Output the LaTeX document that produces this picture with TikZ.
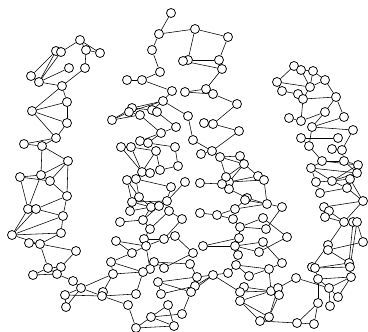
\documentclass[tikz,border=0pt]{standalone}
\usepackage{tikz}
\usetikzlibrary{backgrounds}

\begin{document}
\begin{tikzpicture}[x=0.025cm, y=-0.025cm, line width=0.55pt,
    vtx/.style={circle, draw, fill=white, inner sep=0pt, minimum size=0.225cm}]
    \useasboundingbox (0,0) rectangle (368,331);
    \foreach \Name/\X/\Y in {
    a1/80/40, a2/86/50, a3/100/53, a4/85/68, a5/56/51, a6/61/52, a7/69/68, a8/31/76, a9/39/82,
    a10/62/86, a11/67/102, a12/32/111, a13/67/123, a14/56/138, a15/24/144, a16/42/146, a17/68/161,
    b1/20/177, b2/41/175, b3/50/181, b4/67/196, b5/28/209, b6/36/209, b7/63/216, b8/12/235,
    b9/61/233, b10/29/243, b11/40/244, b12/76/251, b13/48/268, b14/61/267, b15/33/275, b16/57/274,
    b17/73/281, b18/81/288, b19/65/295, b20/66/307,
    c1/171/13, c2/159/34, c3/195/29, c4/228/37, c5/152/50, c6/188/60, c7/183/61, c8/219/60,
    c9/222/69, c10/160/72, c11/127/80, c12/142/80, c13/172/91, c14/185/92, c15/206/89, c16/213/94,
    c17/237/104, c18/163/101, c19/132/108, c20/129/112, c21/152/110, c22/157/112, c23/112/120,
    c24/140/115, c25/188/116, c26/176/127, c27/204/123, c28/213/124, c29/239/131, c30/161/133,
    c31/140/141, c32/148/143, c33/175/147, c34/193/140, c35/121/147, c36/131/147, c37/156/151,
    c38/201/154, c39/212/151, c40/220/157, c41/240/156, c42/244/164, c43/178/166, c44/142/172,
    c45/150/173, c46/160/170,
    d5/127/180, d6/136/179, d7/185/182, d8/171/187, d9/139/197, d10/132/202, d11/167/201,
    d12/130/211, d13/151/207, d14/159/206, d15/169/211, d16/143/220, d17/182/219, d18/120/222,
    d19/150/229, d20/175/236, d21/144/239, d22/116/241, d23/164/239, d24/146/246, d25/193/253,
    d26/132/253, d27/111/262, d28/154/262, d29/190/264, d30/164/268, d31/150/269, d32/143/272,
    d33/113/274, d34/197/277, d35/158/282, d36/195/286, d37/191/292, d38/161/294, d39/136/294,
    d40/103/292, d41/102/296, d42/128/305, d43/168/305, d44/182/314, d45/151/317, d46/174/326,
    d47/136/328,
    e6/258/176, e7/264/180, e8/229/182, e9/226/177, e10/200/183, e11/222/184, e12/229/189,
    e13/247/198, e14/245/200, e15/267/204, e16/282/207, e17/235/209, e18/200/213, e19/217/215,
    e20/233/219, e21/263/218, e22/240/227, e23/266/229, e24/287/237, e25/239/238, e26/203/246,
    e27/235/246, e28/263/242, e29/259/252, e30/238/255, e32/282/263, e33/236/265, e34/269/269,
    e35/249/276, e36/228/273, e37/213/275, e42/244/287, e43/240/292, e44/271/291, e45/278/288,
    e46/279/295, e47/240/301, e48/269/317, e49/260/321,
    f1/294/66, f2/301/70, f3/313/71, f4/277/82, f5/325/80, f6/310/87, f7/282/91, f8/298/94,
    f9/303/99, f10/336/97, f11/325/112, f12/344/117, f13/289/118, f14/301/121, f15/312/127,
    f16/353/130, f17/301/138, f18/338/138, f19/309/146, f20/332/149, f21/342/150, f22/322/161,
    f23/344/161, f24/358/165, f25/311/168, f26/357/173, f28/316/182, f29/332/181,
    f30/350/179, f31/347/188,
    g4/320/193, g6/363/201, g7/324/207, g8/329/211, g9/325/217, g10/344/222, g11/353/222,
    g12/357/222, g13/363/242, g14/328/245, g15/328/250, g16/349/263, g17/350/267, g18/312/267,
    g19/315/268, g20/351/277, g21/318/279, g22/296/278, g23/329/288, g24/338/297, g25/330/306,
    g26/318/303, g27/314/324, g28/297/323}{
    \node[vtx] (\Name) at (\X,\Y) {};
    };
    \begin{scope}[on background layer]
    \foreach \A/\B in {
    a1/a6, a1/a2, a2/a3, a1/a3, a2/a4, a4/a10, a5/a8, a5/a9, a6/a9, a7/a9, a5/a6, a9/a10, a8/a9,
    a10/a11, a10/a12, a11/a12, a11/a13, a12/a13, a12/a14, a13/a14, a14/a15, a14/a16, a15/a16,
    a16/a17, a16/b2, a17/b2, a17/b3, a17/b4,
    b1/b2, b1/b3, b1/b5, b2/b3, b2/b5, b3/b4, b4/b6, b4/b7, b5/b6, b6/b7, b5/b8, b6/b8, b7/b8,
    b7/b9, b8/b9, b8/b11, b9/b11, b10/b11, b11/b12, b11/b13, b12/b14, b13/b14, b13/b15, b14/b16,
    b15/b16, b13/b16, b16/b17, b17/b18, b18/b19, b18/b20, b19/d41, b18/d33, b18/d41, b19/b20,
    d33/d40,
    c1/c2, c2/c3, c3/c4, c3/c6, c2/c5, c5/c10, c4/c8, c6/c8, c7/c6, c7/c9, c8/c9, c9/c15, c10/c12,
    c11/c12, c12/c13, c13/c18, c14/c15, c15/c16, c14/c16, c16/c17, c17/c28, c27/c28, c28/c29,
    c29/c39, c18/c25, c25/c34, c34/c39, c38/c39, c39/c40, c40/c41, c40/c42, c41/c42, c18/c19,
    c18/c20, c18/c21, c19/c21, c20/c23, c19/c23, c20/c24, c23/c24, c21/c22, c22/c26, c24/c30,
    c26/c30, c30/c31, c30/c32, c31/c32, c32/c33, c33/c43, c35/c36, c36/c37, c35/c44, c36/c44,
    c37/c44, c37/c46, c44/c45, c45/c46, c46/c43,
    d5/d6, d6/d8, d5/d10, d5/d9, d6/d9, d8/d11, d7/d11, d9/d13, d10/d13, d10/d11, d12/d13,
    d13/d14, d14/d11, d13/d16, d14/d16, d15/d19, d17/d23, d15/d17, d16/d19, d18/d16, d19/d21,
    d21/d23, d24/d23, d20/d25, d20/d23, d22/d24, d21/d24, d22/d26, d26/d24,
    d27/d26, d27/d32, d33/d32, d33/d27, d24/d31, d31/d32, d32/d28, d28/d29,
    d28/d30, d30/d25, d29/d34, d35/d34, d35/d37, d38/d36, d36/d37, d34/d36, d37/d44, d38/d35,
    d32/d39, d41/d39, d41/d42, d42/d47, d45/d47, d45/d43, d45/d46, d43/d46, d45/d44, d47/d46,
    c40/e9, c42/e8, c42/e9, c42/e6, e8/e7, e8/e6, e6/e7, e10/e11, e11/e8,
    e11/e12, e8/e12, e12/e13, e7/e15, e13/e15, e14/e15, e14/e17, e15/e16, e17/e15, e17/e19,
    e18/e19, e19/e20, e20/e22, e22/e21, e22/e23, e21/e24, e16/e23, e25/e22, e25/e26, e26/e27,
    e25/e27, e27/e28, e27/e29, e29/e24, e27/e30, e30/e33, e33/e34, e33/e36, e33/e35, e35/e34,
    e28/e32, e34/e32, e36/e37, e37/d34, e37/d36, e37/d37, e37/e43, e34/e44, e42/e43, e43/e44,
    e42/e44, e43/e47, e47/e44, e44/e45, e44/e46, e45/e46, e45/e48, e46/e48, e47/e49, e48/e49,
    e47/e48, e49/g28, e45/g22,
    f1/f2, f1/f4, f2/f3, f3/f5, f2/f6, f3/f6, f5/f6, f4/f6, f4/f7, f7/f8, f8/f9, f9/f6, f5/f10,
    f9/f10, f10/f11, f10/f12, f9/f14, f14/f11, f13/f14, f11/f15, f12/f15, f15/f16, f15/f19, f17/f18,
    f17/f19, f16/f21, f19/f22, f20/f21, f21/f23, f22/f23, f23/f24, f23/f26, f22/f25, f25/f26,
    f22/f24, f24/f29, f25/f28, f25/f29, f28/f29, f29/f26, f29/f30, f26/f30, f30/f31, f28/g4,
    g4/f31, f29/f31, f31/g6, f30/g6, g6/g7, g7/g8, g8/g9, g9/g10, g8/g10, g6/g10, g10/g11,
    g11/g12, g10/g14, g11/g16, g12/g13, g12/g17, g15/g13, g14/g15, g15/g16, g14/g18, g18/g19,
    g19/g16, g19/g17, g16/g20, g21/g20, g19/g21, g21/g26, g21/g23, g20/g23, g23/g24, g23/g25,
    g20/g24, g22/g23, g26/g27, g26/g28, g27/g28}{
    \draw (\A) -- (\B);
    };
    \end{scope}
\end{tikzpicture}
\end{document}
